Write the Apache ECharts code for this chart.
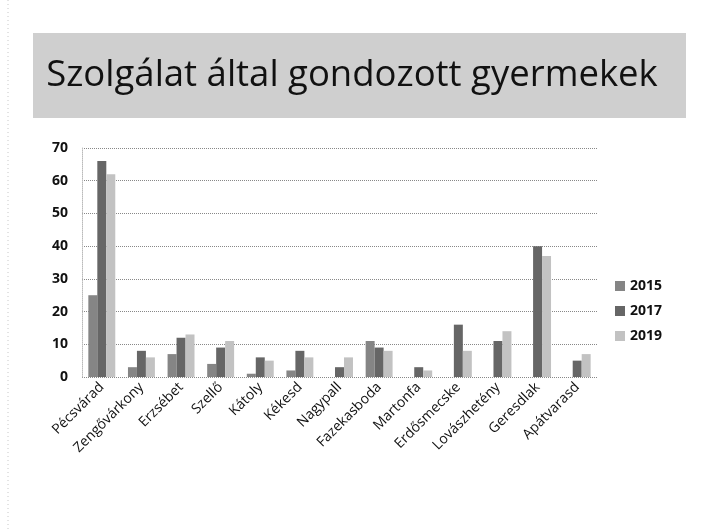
<!DOCTYPE html>
<html>
<head>
<meta charset="utf-8">
<script src="https://cdn.jsdelivr.net/npm/echarts@6/dist/echarts.min.js"></script>
<style>
  html, body { margin: 0; padding: 0; background: #fff; }
  #chart { width: 704px; height: 532px; }
</style>
</head>
<body>
<div id="chart"></div>
<script>
// telepulesek (x tengely)
const categories = ['Pécsvárad', 'Zengővárkony', 'Erzsébet', 'Szellő', 'Kátoly', 'Kékesd',
  'Nagypall', 'Fazekasboda', 'Martonfa', 'Erdősmecske', 'Lovászhetény', 'Geresdlak', 'Apátvarasd']
const years = ['2015', '2017', '2019']
const v2015 = [25, 3, 7, 4, 1, 2, 0, 11, 0, 0, 0, 0, 0]
const v2017 = [66, 8, 12, 9, 6, 8, 3, 9, 3, 16, 11, 40, 5]
const v2019 = [62, 6, 13, 11, 5, 6, 6, 8, 2, 8, 14, 37, 7]
const yTicks = [0, 10, 20, 30, 40, 50, 60, 70]

const colors = ['#858585', '#666666', '#c2c2c2']
const chart = echarts.init(document.getElementById('chart'))

chart.setOption({
  animation: false,
  color: colors,
  graphic: [
    { type: 'rect', shape: { x: 33, y: 33, width: 653, height: 85 }, style: { fill: '#cfcfcf' }, z: -1 },
    { type: 'line', shape: { x1: 8, y1: 0, x2: 8, y2: 532 }, style: { stroke: '#c8c8c8', lineDash: [1, 3] } }
  ],
  title: {
    text: 'Szolgálat által gondozott gyermekek',
    left: 'center', top: 52,
    textStyle: { fontFamily: 'Open Sans', fontSize: 36.5, fontWeight: 'normal', color: '#111' }
  },
  legend: {
    orient: 'vertical', left: 610, top: 274, itemGap: 11,
    itemWidth: 10, itemHeight: 10, icon: 'rect',
    data: years,
    textStyle: { fontFamily: 'Open Sans', fontSize: 14, fontWeight: 'bold', color: '#111' }
  },
  grid: { left: 82, right: 107, top: 148, bottom: 155, containLabel: false },
  xAxis: {
    type: 'category', data: categories,
    axisLine: { show: false }, axisTick: { show: false },
    axisLabel: { rotate: 45, interval: 0, margin: 8, fontFamily: 'Open Sans', fontSize: 14, color: '#111' }
  },
  yAxis: {
    type: 'value', min: yTicks[0], max: yTicks[yTicks.length - 1], interval: 10,
    axisLine: { show: true, lineStyle: { color: '#bbb', type: 'dotted' } },
    axisTick: { show: false },
    axisLabel: { margin: 14, fontFamily: 'Open Sans', fontSize: 14, fontWeight: 'bold', color: '#111' },
    splitLine: { lineStyle: { color: '#888', type: 'dotted' } }
  },
  series: [
    { name: years[0], type: 'bar', data: v2015, barGap: '0%', barCategoryGap: '32%' },
    { name: years[1], type: 'bar', data: v2017, barGap: '0%', barCategoryGap: '32%' },
    { name: years[2], type: 'bar', data: v2019, barGap: '0%', barCategoryGap: '32%' }
  ]
})
</script>
</body>
</html>
